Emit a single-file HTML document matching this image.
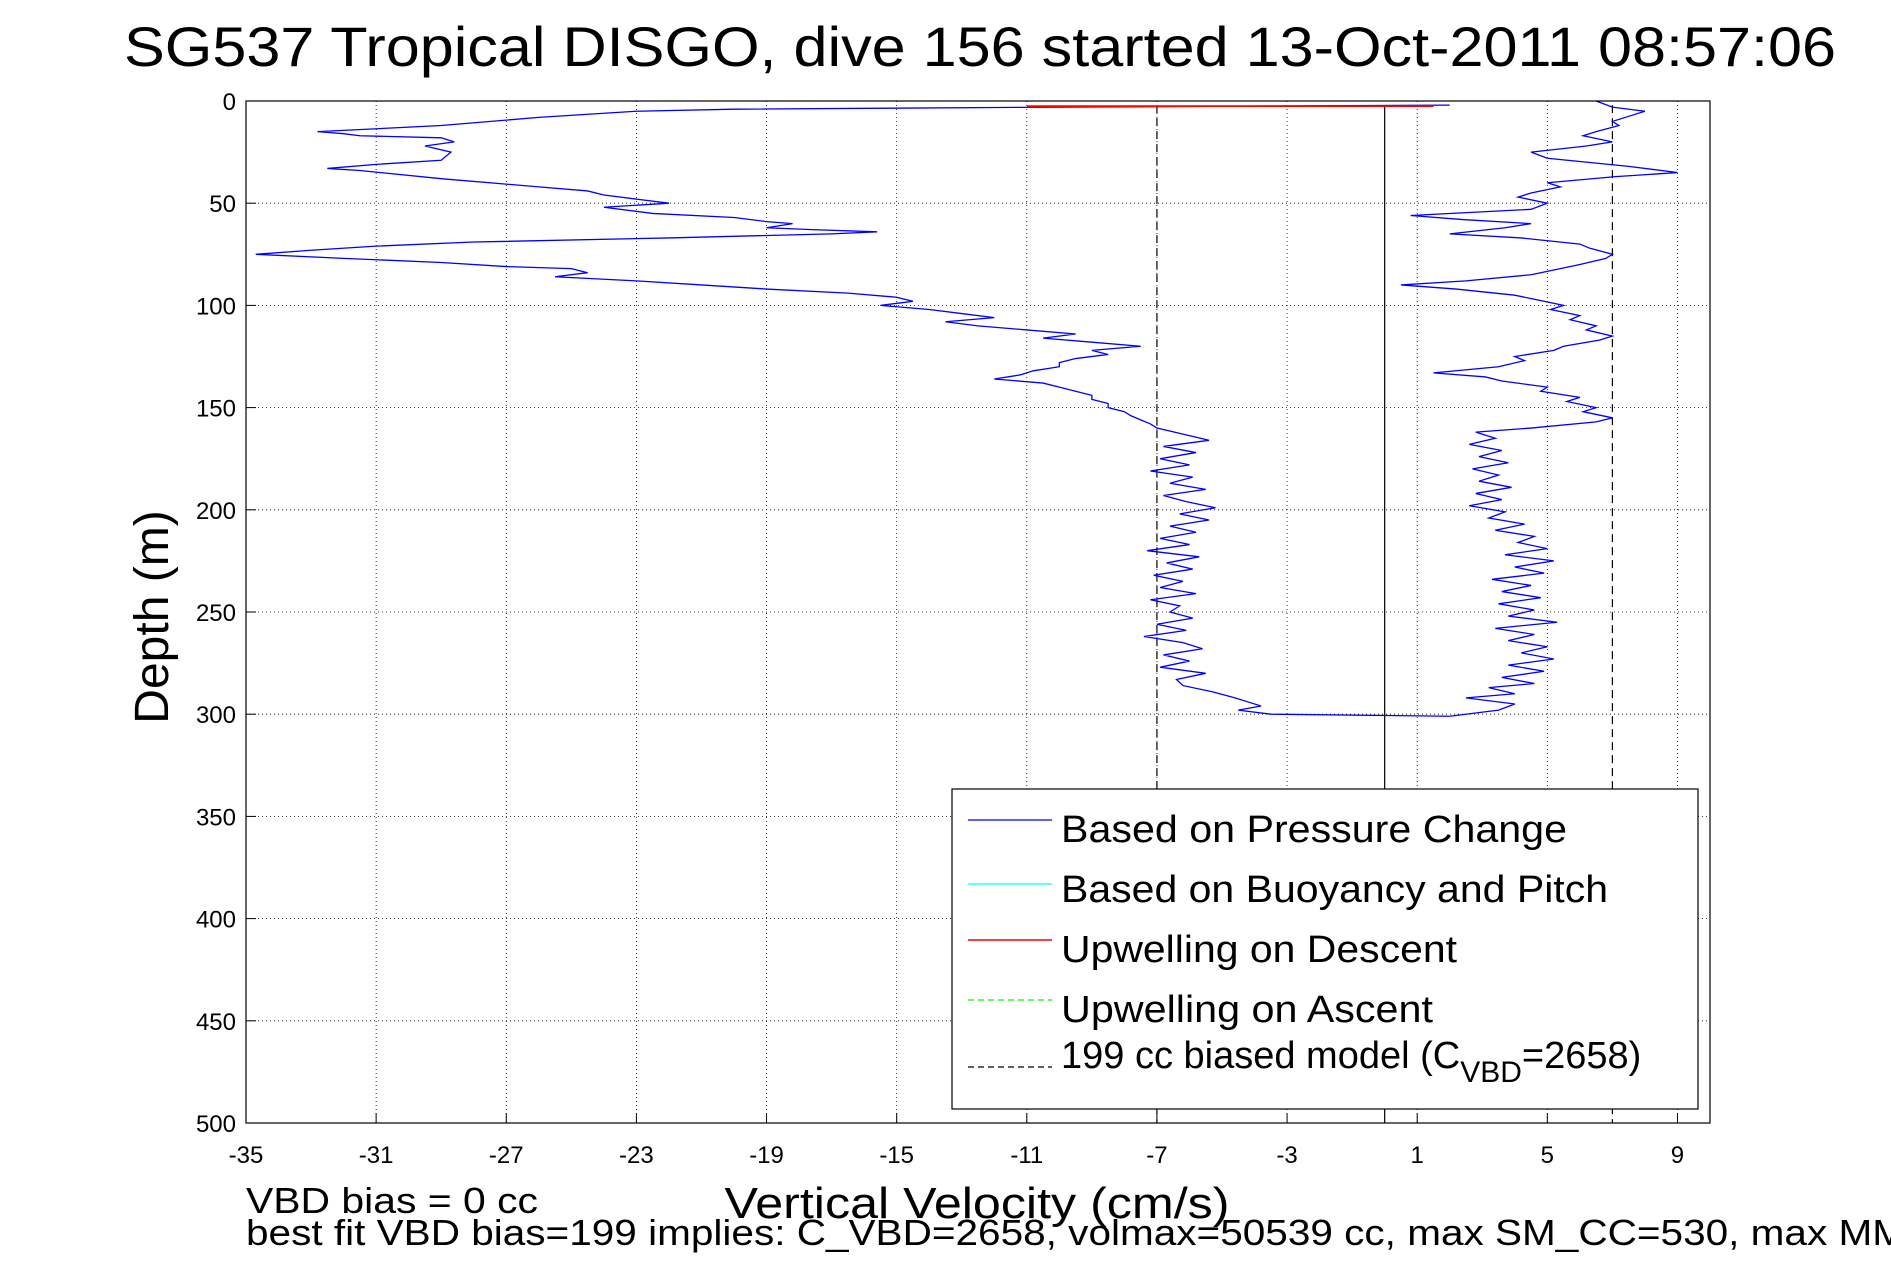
<!DOCTYPE html>
<html><head><meta charset="utf-8"><style>
html,body{margin:0;padding:0;background:#fff;}
svg{display:block;font-family:"Liberation Sans",sans-serif;}
</style></head><body>
<svg id="chart" width="1891" height="1262" viewBox="0 0 1891 1262" xmlns="http://www.w3.org/2000/svg">
<text x="980" y="66" font-size="56" text-anchor="middle" textLength="1712" lengthAdjust="spacingAndGlyphs">SG537 Tropical DISGO, dive 156 started 13-Oct-2011 08:57:06</text>
<g id="grid"></g>
<g id="series"></g>
<rect x="246" y="101" width="1464" height="1022" fill="none" stroke="#000" stroke-width="1.2"/>
<g id="ticks"></g>
<text transform="translate(168,617) rotate(-90)" font-size="48" text-anchor="middle">Depth (m)</text>
<text x="977" y="1218" font-size="44" text-anchor="middle" textLength="505" lengthAdjust="spacingAndGlyphs">Vertical Velocity (cm/s)</text>
<text x="246" y="1213" font-size="36" textLength="292" lengthAdjust="spacingAndGlyphs">VBD bias = 0 cc</text>
<text x="246" y="1245" font-size="36" textLength="1660" lengthAdjust="spacingAndGlyphs">best fit VBD bias=199 implies: C_VBD=2658, volmax=50539 cc, max SM_CC=530, max MM</text>
<g>
<rect x="952" y="789" width="746" height="320" fill="#fff" stroke="#000" stroke-width="1.2"/>
<g><line x1="968" y1="820" x2="1052" y2="820" stroke="#00f" stroke-width="1.2"/><text x="1061" y="842" font-size="38" textLength="506" lengthAdjust="spacingAndGlyphs">Based on Pressure Change</text></g>
<g><line x1="968" y1="884" x2="1052" y2="884" stroke="#0ff" stroke-width="1.2"/><text x="1061" y="902" font-size="38" textLength="547" lengthAdjust="spacingAndGlyphs">Based on Buoyancy and Pitch</text></g>
<g><line x1="968" y1="940" x2="1052" y2="940" stroke="#f00" stroke-width="1.5"/><text x="1061" y="962" font-size="38" textLength="396" lengthAdjust="spacingAndGlyphs">Upwelling on Descent</text></g>
<g><line x1="968" y1="1000" x2="1052" y2="1000" stroke="#0f0" stroke-width="1.2" stroke-dasharray="6,4"/><text x="1061" y="1022" font-size="38" textLength="372" lengthAdjust="spacingAndGlyphs">Upwelling on Ascent</text></g>
<g><line x1="968" y1="1067" x2="1052" y2="1067" stroke="#000" stroke-width="1.2" stroke-dasharray="6,4"/><text x="1061" y="1068" font-size="38">199 cc biased model (C<tspan font-size="30" dy="14">VBD</tspan><tspan dy="-14">=2658)</tspan></text></g>
</g>
</svg>
<script>
const xTicks = [-35,-31,-27,-23,-19,-15,-11,-7,-3,1,5,9];
const yTicks = [0,50,100,150,200,250,300,350,400,450,500];
const descentDepth = [2,3,4,5,8,12,15,16,17,18,20,22,25,29,31,33,34,38,42,44,46,48,50,52,55,57,59,60,62,63,64,65,67,69,71,73,75,77,79,81,82,84,86,88,90,92,94,96,98,100,102,104,106,108,110,112,114,116,118,120,122,124,126,128,130,132,134,136,138,140,142,144,146,148,150,152,154,156,158,160,163,166,169,172,175,178,181,184,187,190,193,196,199,202,205,208,211,214,217,220,223,226,229,232,235,238,241,244,247,250,253,256,259,262,265,268,271,274,277,280,283,286,289,292,294,296,298,300,301];
const descentVel = [2,-10,-20,-23,-26,-29,-32.8,-32,-31.5,-29,-28.6,-29.5,-28.7,-29,-31,-32.5,-31.5,-29,-26,-24.5,-24,-23,-22,-24,-22.5,-20,-19,-18.2,-19,-17.5,-15.6,-17,-22,-28,-31,-33,-34.7,-32,-29,-27,-25,-24.5,-25.5,-23,-21,-19,-16.5,-15,-14.5,-15.5,-14,-13,-12,-13.5,-12.5,-11,-9.5,-10.5,-9,-7.5,-9,-8.5,-9.5,-10,-10,-10.8,-11.2,-12,-10.5,-10,-9.5,-9,-9,-8.5,-8.5,-8,-7.8,-7.5,-7.2,-7,-6.2,-5.4,-6.8,-5.8,-6.9,-6.0,-7.2,-5.9,-6.6,-5.5,-6.8,-6.1,-5.2,-6.3,-5.4,-6.6,-5.8,-6.9,-6.0,-7.3,-5.7,-6.7,-5.9,-7.1,-6.2,-6.9,-5.8,-7.2,-6.3,-6.6,-5.9,-7.0,-6.1,-7.4,-6.2,-5.6,-6.8,-6.0,-6.9,-5.5,-6.4,-6.2,-5.3,-4.6,-4.2,-3.8,-4.5,-3.5,2.0];
const ascentDepth = [301,298,295,292,290,287,285,282,279,276,273,270,267,264,261,258,255,252,249,246,243,240,237,234,231,228,225,222,219,216,213,210,207,204,201,198,195,192,189,186,183,180,177,174,171,168,165,162,160,157,155,152,150,147,145,142,140,137,135,133,130,127,125,122,120,117,115,112,110,107,105,102,100,97,95,92,90,88,85,82,80,77,75,72,70,67,65,62,60,58,56,53,50,47,45,42,40,37,35,32,28,25,22,20,17,15,12,10,7,5,3,0];
const ascentVel = [2,3.5,4,2.5,4,3.2,4.6,3.6,4.9,3.8,5.2,4.2,5.0,3.8,4.6,3.4,5.3,3.8,4.6,3.5,4.8,3.6,4.5,3.3,4.9,4.0,5.2,3.7,5.0,4.1,4.6,3.4,4.3,3.2,3.7,2.6,3.6,2.8,3.9,2.9,3.5,2.7,3.8,2.9,3.6,2.6,3.4,2.8,4.5,6.5,7,6.1,6.5,5.6,6,4.8,5,3.6,3.1,1.5,3.5,4.3,4,5.2,5.5,6.6,7,6.2,6.5,5.7,6,5.1,5.5,4.6,4,2.2,0.5,2.5,4.5,5.4,6,6.8,7,6.3,6,4.2,2,3.7,4.5,2.4,0.8,4.5,5,4.1,4.5,5.4,5,7.1,9,7.5,5,4.5,6.2,7,6.1,6.5,7.2,7,7.6,8,7,6.5];
const modelVel = [-7, 7];
const buoyVel = [0];
const upwellDescent = [-11, 1.5];

const X0=246,X1=1710,Y0=101,Y1=1123,XMIN=-35,XMAX=10,YMIN=0,YMAX=500;
const sx=v=>X0+(v-XMIN)/(XMAX-XMIN)*(X1-X0);
const sy=d=>Y0+(d-YMIN)/(YMAX-YMIN)*(Y1-Y0);
const NS='http://www.w3.org/2000/svg';
function mk(tag,attrs,parent){const e=document.createElementNS(NS,tag);for(const k in attrs)e.setAttribute(k,attrs[k]);parent.appendChild(e);return e;}
const grid=document.getElementById('grid'),ticks=document.getElementById('ticks'),series=document.getElementById('series');
xTicks.forEach(t=>{
  const g=mk('line',{x1:sx(t),x2:sx(t),y1:Y0,y2:Y1,stroke:'#000','stroke-width':0.8,'stroke-dasharray':'1,3'},grid);
  
  
  const tk=mk('line',{x1:sx(t),x2:sx(t),y1:Y1,y2:Y1-10,stroke:'#000'},ticks);
  
  
  const lb=mk('text',{x:sx(t),y:Y1+40,'font-size':24,'text-anchor':'middle'},ticks);
  lb.textContent=t;
  
  
});
yTicks.forEach(t=>{
  const g=mk('line',{x1:X0,x2:X1,y1:sy(t),y2:sy(t),stroke:'#000','stroke-width':0.8,'stroke-dasharray':'1,3'},grid);
  
  
  const tk=mk('line',{x1:X0,x2:X0+10,y1:sy(t),y2:sy(t),stroke:'#000'},ticks);
  
  
  const lb=mk('text',{x:X0-10,y:sy(t)+9,'font-size':24,'text-anchor':'end'},ticks);
  lb.textContent=t;
  
  
});
modelVel.forEach(v=>{
  const l=mk('line',{x1:sx(v),x2:sx(v),y1:sy(2),y2:sy(500),stroke:'#000','stroke-width':1.2,'stroke-dasharray':'8,5'},series);
  
  
});
buoyVel.forEach(v=>{
  const l=mk('line',{x1:sx(v),x2:sx(v),y1:sy(2),y2:sy(500),stroke:'#000','stroke-width':1.2},series);
  
  
});
function poly(ds,vs,name){
  const p=mk('polyline',{points:ds.map((d,i)=>sx(vs[i])+','+sy(d)).join(' '),fill:'none',stroke:'#00f','stroke-width':1.3},series);
  
  
}
poly(descentDepth,descentVel,'descent-velocity-line');
poly(ascentDepth,ascentVel,'ascent-velocity-line');
const r=mk('line',{x1:sx(upwellDescent[0]),x2:sx(upwellDescent[1]),y1:sy(2.5),y2:sy(2.5),stroke:'#f00','stroke-width':1.8},series);


</script>
</body></html>
